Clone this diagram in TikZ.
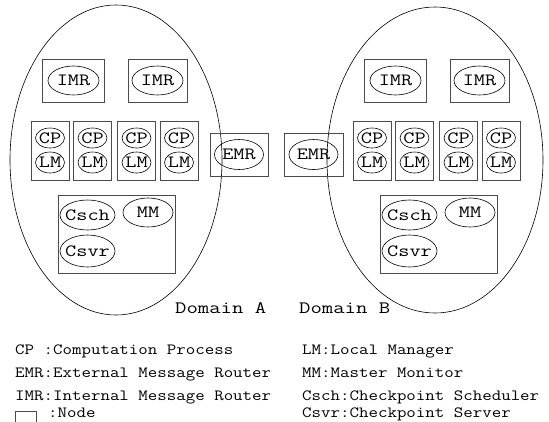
\documentclass[tikz,border=0pt]{standalone}
\usepackage{graphicx}
\usetikzlibrary{shapes.geometric,positioning}
\tikzset{
  tartomany/.style={draw,ellipse,line width=.6pt,inner sep=0pt},
  gep/.style={draw=black!70,line width=.9pt,inner sep=0pt},
  folyamat/.style={draw,ellipse,line width=.6pt,inner sep=0pt,
                   font=\ttfamily\fontsize{17.2}{19}\selectfont},
  felirat/.style={font=\ttfamily\fontsize{17.4}{20}\selectfont,inner sep=0pt,anchor=base west},
  jelmagy/.style={font=\ttfamily\fontsize{15.6}{18}\selectfont,inner sep=0pt,anchor=base west},
}
\newcommand\kozep[1]{\makebox[0pt]{\scalebox{1.26}[1]{#1}}}
\newcommand\szeles[1]{\scalebox{1.18}[1]{#1}}

\begin{document}
\begin{tikzpicture}[x=1pt,y=-1pt]
  \useasboundingbox (0,0) rectangle (549,421);
  % a ket tartomany
  \node[tartomany,minimum width=212,minimum height=310] (tA) at (116,160) {};
  \node[tartomany,minimum width=216,minimum height=306] (tB) at (435,160) {};
  \foreach \t/\dx in {A/0,B/322} {
    \begin{scope}[xshift=\dx,name prefix=\t-]
      \node[gep,minimum width=62,minimum height=43] (imr1) at (73.5,80.5) {};
      \node[gep,minimum width=59,minimum height=43] (imr2) at (157.5,80.5) {};
      \node[folyamat,minimum width=51,minimum height=29] (imr1e) at (imr1) {\kozep{IMR}};
      \node[folyamat,minimum width=51,minimum height=29] (imr2e) at (imr2) {\kozep{IMR}};
      \foreach \i/\x in {1/50,2/92.5,3/136.5,4/179} {
        \node[gep,minimum width=38,minimum height=59] (gep\i) at (\x,150.5) {};
        \node[folyamat,minimum width=29,minimum height=20] (cp\i) at (\x,138) {\kozep{CP}};
        \node[folyamat,minimum width=29,minimum height=21] (lm\i) at (\x,162.5) {\kozep{LM}};
      }
      \node[gep,minimum width=117,minimum height=78] (vez) at (116.5,234) {};
      \node[folyamat,minimum width=55,minimum height=30] (csch) at (87.5,215) {\kozep{Csch}};
      \node[folyamat,minimum width=50,minimum height=29] (mm) at (148,212.5) {\kozep{MM}};
      \node[folyamat,minimum width=55,minimum height=32] (csvr) at (87.5,251) {\kozep{Csvr}};
    \end{scope}
  }
  % kulso utvalasztok
  \node[gep,minimum width=58,minimum height=43] (emrA) at (239,154.5) {};
  \node[gep,minimum width=59,minimum height=43] (emrB) at (313.5,154.5) {};
  \node[folyamat,minimum width=49,minimum height=30] (emrAe) at (emrA) {\kozep{EMR}};
  \node[folyamat,minimum width=49,minimum height=30] (emrBe) at (emrB) {\kozep{EMR}};
  \node[felirat] (dA) at (175,313.3) {\scalebox{1.27}[1]{Domain A}};
  \node[felirat] (dB) at (299,313.3) {\scalebox{1.27}[1]{Domain B}};
  % jelmagyarazat
  \node[jelmagy] (j1) at (15,354) {\szeles{CP :Computation Process}};
  \node[jelmagy] (j2) at (15,377.5) {\szeles{EMR:External Message Router}};
  \node[jelmagy] (j3) at (15,400.5) {\szeles{IMR:Internal Message Router}};
  \node[gep,minimum size=21] (j4d) at (25.5,421.5) {};
  \node[jelmagy] (j4) at (48,417) {\szeles{:Node}};
  \node[jelmagy] (k1) at (302,354) {\szeles{LM:Local Manager}};
  \node[jelmagy] (k2) at (302,377.5) {\szeles{MM:Master Monitor}};
  \node[jelmagy] (k3) at (302,400.5) {\szeles{Csch:Checkpoint Scheduler}};
  \node[jelmagy] (k4) at (302,417) {\szeles{Csvr:Checkpoint Server}};
\end{tikzpicture}
\end{document}
